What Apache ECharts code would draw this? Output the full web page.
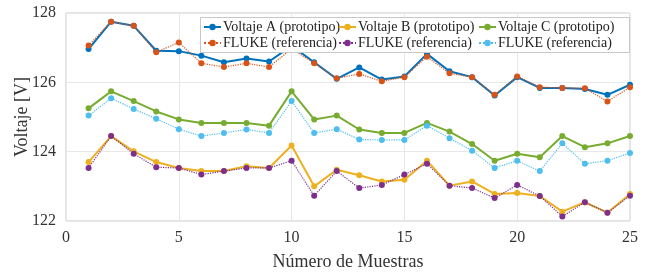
<!DOCTYPE html>
<html><head><meta charset="utf-8">
<script src="https://cdn.jsdelivr.net/npm/echarts@6/dist/echarts.min.js"></script>
<style>html,body{margin:0;padding:0;background:#fff}#c{width:647px;height:273px}</style>
</head><body><div id="c"></div>
<script>
const muestras = [1,2,3,4,5,6,7,8,9,10,11,12,13,14,15,16,17,18,19,20,21,22,23,24,25];
const voltajeA = [126.96,127.75,127.63,126.91,126.90,126.77,126.58,126.69,126.60,127.05,126.58,126.10,126.43,126.08,126.17,126.82,126.32,126.15,125.62,126.15,125.84,125.84,125.81,125.64,125.93];
const flukeA   = [127.06,127.75,127.63,126.87,127.15,126.55,126.44,126.55,126.44,126.97,126.55,126.12,126.24,126.03,126.15,126.74,126.26,126.15,125.64,126.17,125.86,125.84,125.83,125.45,125.86];
const voltajeB = [123.70,124.45,124.01,123.70,123.53,123.44,123.44,123.58,123.53,124.18,123.00,123.48,123.32,123.14,123.19,123.74,123.02,123.14,122.78,122.81,122.72,122.27,122.54,122.24,122.78];
const flukeB   = [123.53,124.45,123.94,123.55,123.53,123.34,123.44,123.53,123.53,123.74,122.73,123.44,122.95,123.04,123.34,123.65,123.02,122.95,122.66,123.04,122.72,122.13,122.54,122.24,122.73];
const voltajeC = [125.25,125.74,125.46,125.16,124.93,124.83,124.83,124.83,124.75,125.74,124.93,125.04,124.64,124.54,124.54,124.83,124.58,124.22,123.74,123.94,123.84,124.45,124.13,124.24,124.45];
const flukeC   = [125.04,125.54,125.23,124.95,124.65,124.45,124.54,124.64,124.54,125.46,124.54,124.65,124.35,124.34,124.34,124.75,124.39,124.03,123.53,123.74,123.44,124.24,123.65,123.74,123.96];
const xTicks = [0,5,10,15,20,25];
const yTicks = [122,124,126,128];

const FONT = '"Liberation Serif","Times New Roman",serif';
const pair = (xs, ys) => xs.map((x,i)=>[x, ys[i]]);
function proto(name, data, color){
  return {name, type:'line', data:pair(muestras,data), symbol:'circle', symbolSize:6,
    lineStyle:{color, width:2}, itemStyle:{color}, animation:false};
}
function fluke(name, data, color){
  return {name, type:'line', data:pair(muestras,data), symbol:'circle', symbolSize:6,
    lineStyle:{color, width:1.2, type:'dotted'}, itemStyle:{color}, animation:false};
}
const labelMap = {'FLUKE A':'FLUKE (referencia)','FLUKE B':'FLUKE (referencia)','FLUKE C':'FLUKE (referencia)'};
function legend(left, names){
  return {left, top:19, orient:'vertical', itemGap:0, itemWidth:17, itemHeight:8, z:20,
    data:names, formatter:n=>labelMap[n]||n,
    textStyle:{fontFamily:FONT, fontSize:14, lineHeight:16, color:'#222', padding:[0,0,0,-3]}, padding:0};
}
const chart = echarts.init(document.getElementById('c'), null, {renderer:'canvas'});
chart.setOption({
  backgroundColor:'#fff',
  grid:{left:66, right:17, top:13, bottom:52, show:true, borderColor:'#c8c8c8', borderWidth:1,
    containLabel:false, outerBoundsMode:'none'},
  xAxis:{type:'value', min:xTicks[0], max:xTicks[xTicks.length-1], interval:5,
    name:'Número de Muestras', nameLocation:'middle', nameGap:32, nameMoveOverlap:false,
    nameTextStyle:{fontFamily:FONT, fontSize:18, color:'#333'},
    axisLine:{show:false}, axisTick:{show:false},
    axisLabel:{fontFamily:FONT, fontSize:16, color:'#333', margin:9},
    splitLine:{lineStyle:{color:'#e8e8e8'}}},
  yAxis:{type:'value', min:yTicks[0], max:yTicks[yTicks.length-1], interval:2,
    name:'Voltaje [V]', nameLocation:'middle', nameGap:35, nameMoveOverlap:false,
    nameTextStyle:{fontFamily:FONT, fontSize:18, color:'#333'},
    axisLine:{show:false}, axisTick:{show:false},
    axisLabel:{fontFamily:FONT, fontSize:16, color:'#333', margin:10},
    splitLine:{lineStyle:{color:'#e8e8e8'}}},
  legend:[legend(203,['Voltaje A (prototipo)','FLUKE A']),
          legend(338,['Voltaje B (prototipo)','FLUKE B']),
          legend(478,['Voltaje C (prototipo)','FLUKE C'])],
  graphic:[{type:'rect', left:200, top:17, shape:{width:429, height:35},
    style:{fill:'#fff', stroke:'#c8c8c8', lineWidth:1}, z:10}],
  series:[
    proto('Voltaje A (prototipo)', voltajeA, '#0072BD'),
    proto('Voltaje B (prototipo)', voltajeB, '#EDB120'),
    proto('Voltaje C (prototipo)', voltajeC, '#77AC30'),
    fluke('FLUKE A', flukeA, '#D95319'),
    fluke('FLUKE B', flukeB, '#7E2F8E'),
    fluke('FLUKE C', flukeC, '#4DBEEE')
  ]
});
</script></body></html>
